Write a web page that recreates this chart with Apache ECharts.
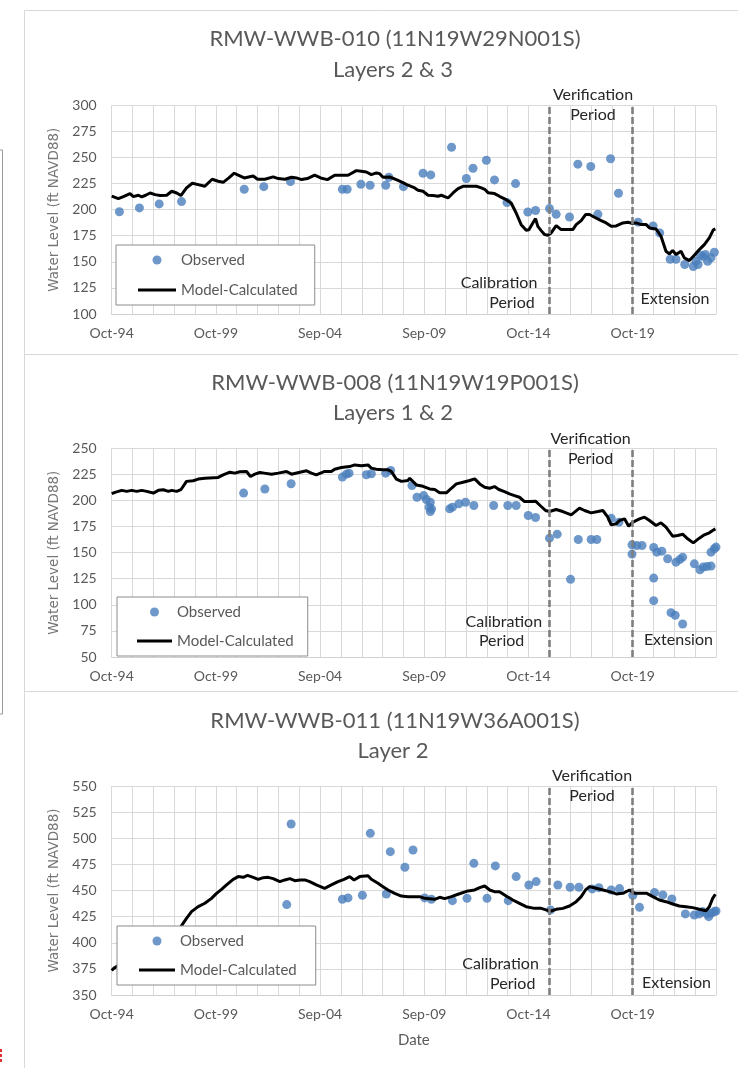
<!DOCTYPE html>
<html><head><meta charset="utf-8">
<script src="https://cdn.jsdelivr.net/npm/echarts@6/dist/echarts.min.js"></script>
<style>html,body{margin:0;padding:0;background:#fff;}#c{width:738px;height:1068px;}</style>
</head><body><div id="c"></div>
<script>
// x values are years after Oct-1994
const xTickLabels = ['Oct-94','Oct-99','Sep-04','Sep-09','Oct-14','Oct-19'];
const xRange = [0, 29];
const periodBounds = [21, 25]; // Oct-15 (end of calibration), Oct-19 (end of verification)

const wellTitles = ['RMW-WWB-010 (11N19W29N001S)', 'RMW-WWB-008 (11N19W19P001S)', 'RMW-WWB-011 (11N19W36A001S)'];
const layerTitles = ['Layers 2 & 3', 'Layers 1 & 2', 'Layer 2'];
const yRanges = [[100, 300], [50, 250], [350, 550]];

const observed010 = [[0.37,198],[1.33,201.7],[2.28,205.5],[3.35,207.7],[6.36,219.5],[7.3,222],[8.58,227],[11.07,219.5],[11.3,219.5],[11.96,224.3],[12.4,223.4],[13.15,223.4],[13.3,231],[14.0,222],[14.94,234.9],[15.31,233.3],[16.31,259.8],[17.02,229.8],[17.34,239.7],[17.98,247.3],[18.37,228.5],[18.97,206.8],[19.38,225],[19.97,197.8],[20.34,199.2],[21.01,201],[21.33,195.6],[21.97,193],[22.37,243.6],[22.99,241.3],[23.33,195.6],[23.94,248.8],[24.32,215.7],[25.26,188],[25.98,184.4],[26.3,177.7],[26.8,152.5],[27.08,152.5],[27.5,147.4],[27.91,145.5],[28.04,150.6],[28.14,147.4],[28.25,156.3],[28.39,155],[28.49,157],[28.6,150.6],[28.76,153.8],[28.92,159.2]];
const model010 = [[0,213],[0.32,210.6],[0.56,212.5],[0.88,215.4],[1.04,212.5],[1.28,213.8],[1.44,212.2],[1.63,213.8],[1.84,216],[2.08,214.4],[2.32,213.5],[2.64,213.8],[2.88,217.6],[3.12,216],[3.32,213.5],[3.59,220.8],[3.87,225.3],[4.15,224],[4.47,222.4],[4.82,229.1],[5.11,227.2],[5.35,226.2],[5.62,230.4],[5.88,234.9],[6.07,233],[6.36,230.4],[6.79,232.3],[7.0,229.1],[7.35,229.1],[7.75,231.4],[7.99,229.8],[8.31,229.1],[8.63,231],[8.87,230.4],[9.11,228.8],[9.39,229.8],[9.74,233],[10.03,230.4],[10.35,228.8],[10.7,233],[11.34,233],[11.74,237.4],[11.98,236.8],[12.22,236.1],[12.46,233.6],[12.7,235.2],[12.86,234.5],[13.02,231],[13.34,231.3],[13.66,228.8],[13.95,226.2],[14.22,223.4],[14.54,220.8],[14.7,218.6],[14.94,217.6],[15.18,213.8],[15.42,213.5],[15.66,212.8],[15.82,213.8],[15.98,212.5],[16.14,211.2],[16.38,216],[16.62,220.2],[16.86,222.4],[17.5,222.4],[17.74,220.8],[17.9,219.5],[18.06,216.3],[18.37,215.4],[18.61,212.8],[18.93,209.6],[19.17,206.4],[19.41,196.8],[19.65,185.6],[19.89,180.2],[20.02,180.8],[20.21,187.2],[20.34,191.4],[20.45,184],[20.61,179.9],[20.77,176.1],[20.93,175.5],[21.09,177.7],[21.33,184.7],[21.57,180.9],[21.89,180.9],[22.13,180.9],[22.29,185.7],[22.53,189.5],[22.74,195.3],[22.93,195.3],[23.17,192.7],[23.49,189.5],[23.73,187.3],[23.97,184.1],[24.21,184.4],[24.53,187.3],[24.77,187.9],[24.97,187],[25.17,187.3],[25.41,185.7],[25.65,185.7],[25.81,182.5],[26.12,181.5],[26.36,174.5],[26.6,160.1],[26.76,157.6],[26.92,160.8],[27.08,157],[27.32,160.1],[27.48,153.8],[27.72,151.2],[27.96,156.3],[28.2,161.7],[28.44,166.5],[28.68,172.9],[28.87,180.6],[28.97,181.5]];

const observed008 = [[6.33,207.1],[7.35,211],[8.61,216],[11.07,222.4],[11.26,225.2],[11.39,226.2],[12.22,224.6],[12.46,225.6],[13.15,226.2],[13.39,228.7],[14.41,214.4],[14.65,203.1],[14.97,204.7],[15.1,200.9],[15.29,198.3],[15.23,193.6],[15.29,189.4],[15.35,192],[16.22,192],[16.35,193.6],[16.66,196.8],[16.98,198.3],[17.38,195.2],[18.33,195.2],[19.01,195.2],[19.41,195.2],[19.99,185.6],[20.34,183.7],[21.01,163.9],[21.38,167.7],[22.02,124.4],[22.39,162.6],[23.01,162.6],[23.28,162.6],[23.97,183],[24.34,179.2],[24.97,157.5],[24.97,148.6],[25.2,156.9],[25.45,156.9],[26.01,155],[26.16,150.5],[26.4,151.4],[26.01,125.6],[26.01,104],[26.68,144.1],[26.84,92.5],[27.04,90],[27.08,140.9],[27.27,143.5],[27.4,145.7],[27.4,81.6],[27.96,139.3],[28.23,133.6],[28.39,136.2],[28.57,136.8],[28.76,137.1],[28.76,150.5],[28.92,153.7],[29.0,155.3]];
const model008 = [[0,206.5],[0.16,207.8],[0.48,209.7],[0.72,208.7],[0.96,209.7],[1.2,208.7],[1.44,209.7],[1.68,208.7],[2.0,207.1],[2.24,209.7],[2.48,210.3],[2.72,208.7],[2.88,209.7],[3.12,208.7],[3.32,210.3],[3.59,218.3],[3.91,218.9],[4.15,220.5],[4.47,221.4],[5.11,222.1],[5.35,224.6],[5.67,227.1],[5.91,226.2],[6.15,227.5],[6.47,227.8],[6.66,223],[6.87,225.2],[7.11,226.8],[7.32,226.2],[7.67,225.2],[7.99,226.2],[8.39,227.8],[8.63,225.2],[9.03,227.1],[9.35,228.4],[9.58,226.2],[9.82,224.6],[10.22,227.8],[10.54,227.8],[10.7,230],[11.02,231.6],[11.42,232.5],[11.66,234.1],[11.98,233.2],[12.3,234.1],[12.46,231],[12.7,230],[13.02,229.4],[13.26,229.4],[13.42,227.8],[13.66,220.5],[13.9,218.3],[14.22,219.2],[14.3,221.3],[14.62,214.9],[14.94,213.6],[15.26,211.1],[15.5,210.5],[15.74,207.3],[16.06,207.3],[16.3,211.7],[16.54,215.9],[16.86,217.5],[17.18,219.1],[17.42,220.7],[17.66,215.9],[17.9,212.7],[18.14,211.7],[18.37,213.3],[18.58,210.5],[18.85,208.5],[19.09,206.3],[19.33,204.7],[19.57,203.1],[19.81,199],[20.05,199],[20.34,199.3],[20.56,195.2],[20.82,190.4],[21.01,189.4],[21.33,191.3],[21.65,189.4],[22.05,186.2],[22.45,192.6],[22.69,190.4],[23.01,188.1],[23.33,189.4],[23.57,190.4],[23.81,184],[23.97,176.7],[24.21,177.6],[24.37,180.8],[24.61,182.4],[24.81,175.4],[25.01,179.2],[25.33,182.4],[25.57,184],[25.81,180.8],[26.12,176],[26.36,178.6],[26.6,174.4],[26.92,165.8],[27.16,166.5],[27.4,167.7],[27.64,163.3],[27.91,159.4],[28.2,163.9],[28.44,167.1],[28.68,169],[28.84,171.2],[28.97,172.8]];

const observed011 = [[8.4,436.5],[8.61,513.6],[11.07,441.6],[11.34,442.9],[12.03,445.4],[12.41,504.7],[13.18,446.7],[13.37,487.2],[14.07,472.2],[14.46,488.8],[15.02,442.9],[15.34,441.6],[16.35,440.3],[17.05,442.5],[17.38,476],[18.01,442.5],[18.41,473.5],[19.03,440.3],[19.41,463.3],[20.02,455.3],[20.37,458.5],[21.06,431.4],[21.41,455.3],[22.0,453.1],[22.42,453.1],[23.06,451.5],[23.38,452.7],[23.97,450.5],[24.37,451.8],[25.01,445.4],[25.33,433.9],[26.05,448],[26.45,445.8],[26.88,441.9],[27.53,427.6],[27.96,426.6],[28.2,427.6],[28.36,429.8],[28.57,427.6],[28.65,425],[28.76,428.2],[28.92,429.8],[29.0,430.4]];
const model011 = [[0,373.5],[0.1,375.5],[3.32,415.4],[3.59,423.4],[3.83,429.8],[4.15,434.6],[4.47,437.8],[4.79,442.5],[5.03,447.3],[5.27,451.1],[5.51,455.3],[5.83,460.7],[6.07,463.3],[6.31,462.6],[6.52,464.5],[6.79,462.6],[7.03,460.7],[7.27,462.3],[7.51,462.6],[7.75,461.4],[8.07,458.5],[8.31,460.1],[8.55,461.4],[8.79,459.4],[9.03,460.1],[9.27,460.1],[9.5,458.5],[9.82,455.3],[10.22,452.1],[10.54,455.3],[10.86,458.5],[11.15,460.7],[11.42,463.3],[11.63,460.1],[11.9,463.3],[12.3,464.2],[12.46,460.7],[12.78,456.9],[13.02,453.7],[13.26,450.5],[13.58,447.3],[13.9,444.7],[14.22,444.1],[14.78,444.1],[15.02,442.5],[15.5,441.6],[15.74,443.5],[15.98,442.2],[16.3,444.1],[16.62,446.4],[17.1,449.6],[17.42,450.5],[17.66,452.7],[17.9,454.3],[18.14,450.5],[18.37,448.9],[18.61,448.9],[18.93,444.7],[19.25,440.9],[19.57,437.7],[19.89,434.5],[20.29,432.9],[20.61,432.9],[20.85,431.4],[21.09,430.4],[21.33,432],[21.65,432.9],[21.97,435.2],[22.29,439.3],[22.53,444.1],[22.74,450.5],[22.93,453.7],[23.25,452.1],[23.57,450.5],[23.89,448.9],[24.21,446.7],[24.53,447.3],[24.85,450.5],[25.09,447.3],[25.33,447.3],[25.68,447.3],[25.97,444.1],[26.28,440.9],[26.6,439.3],[26.92,437.1],[27.24,435.2],[27.56,434.5],[27.88,433.6],[28.2,432],[28.52,430.7],[28.68,434.5],[28.84,442.5],[28.97,446.4]];

const observedSets = [observed010, observed008, observed011];
const modelSets = [model010, model008, model011];

// ---- layout ----
const GRID_LEFT = 111.7, GRID_W = 604.3;
const gridTops = [105.3, 448.3, 786], gridH = [208.7, 208.7, 209];
const panelTops = [10.5, 354.5, 691.5], panelBottoms = [354.5, 691.5, 1090];
const titleY = [[39.3, 70], [383.3, 412.7], [720.7, 751]];
const legendCfg = [
  {left:116, top:245, padding:[6,17,6,22], itemWidth:38, itemGap:12},
  {left:117, top:597, padding:[6,14,6,20], itemWidth:35, itemGap:11},
  {left:117, top:926, padding:[6,19,6,22], itemWidth:36, itemGap:11}
];
const annot = [
  {ver:[593,95,115], cal:[[499,283],[512,303]], ext:[675,299]},
  {ver:[590.6,439.3,459.3], cal:[[503.8,621.7],[501.6,641]], ext:[678.4,640.3]},
  {ver:[592,776,796], cal:[[500.5,964.3],[512.7,984]], ext:[676.5,983.3]}
];

const FONT = 'Lato';
const grids = [], xAxes = [], yAxes = [], series = [], legends = [], graphics = [];

function txt(x, y, text, size, color, family) {
  return {type:'text', x:x, y:y, z:10, silent:true,
    style:{text:text, font: size + 'px "' + (family||FONT) + '"', fill:color,
      align:'center', verticalAlign:'middle', textAlign:'center', textVerticalAlign:'middle'}};
}

for (let i = 0; i < 3; i++) {
  grids.push({left: GRID_LEFT, top: gridTops[i], width: GRID_W, height: gridH[i], containLabel:false});
  xAxes.push({
    type:'value', gridIndex:i, min:xRange[0], max:xRange[1], interval:1,
    axisLine:{show:true, lineStyle:{color:'#d0d0d0', width:1}},
    axisTick:{show:false},
    splitLine:{show:true, lineStyle:{color:'#d9d9d9', width:1}},
    axisLabel:{interval:0, margin:12, color:'#595959', fontFamily:FONT, fontSize:14,
      formatter: v => (Math.abs(v % 5) < 1e-6 && v/5 < xTickLabels.length) ? xTickLabels[Math.round(v/5)] : ''},
    name: i === 2 ? 'Date' : '', nameLocation:'middle', nameGap:38,
    nameTextStyle:{color:'#595959', fontFamily:FONT, fontSize:15}
  });
  yAxes.push({
    type:'value', gridIndex:i, min:yRanges[i][0], max:yRanges[i][1], interval:25,
    axisLine:{show:false}, axisTick:{show:false},
    splitLine:{show:true, lineStyle:{color:'#d9d9d9', width:1}},
    axisLabel:{margin:15, color:'#595959', fontFamily:FONT, fontSize:14},
    name:'Water Level (ft NAVD88)', nameLocation:'middle', nameGap:46, nameRotate:90,
    nameTextStyle:{color:'#767676', fontFamily:'DejaVu Sans', fontSize:13.5}
  });
  series.push({
    name:'Observed', type:'scatter', xAxisIndex:i, yAxisIndex:i, data:observedSets[i],
    symbol:'circle', symbolSize:9, clip:false, itemStyle:{color:'#4A7EBB'}, z:3,
    markLine:{silent:true, symbol:'none', label:{show:false}, animation:false,
      lineStyle:{color:'#7f7f7f', width:2.6, type:[7,3]},
      data: periodBounds.map(b => ({xAxis:b}))}
  });
  series.push({
    name:'Model-Calculated', type:'line', xAxisIndex:i, yAxisIndex:i, data:modelSets[i],
    showSymbol:false, symbol:'none', smooth:false, z:4,
    lineStyle:{color:'#000', width:3}, itemStyle:{color:'#000'}
  });
  const L = legendCfg[i];
  legends.push({
    orient:'vertical', left:L.left, top:L.top, padding:L.padding, itemWidth:L.itemWidth, itemHeight:9,
    itemGap:L.itemGap, itemTextGap:3, borderColor:'#8c8c8c', borderWidth:1, backgroundColor:'#fff',
    selectedMode:false, z:6,
    textStyle:{fontFamily:FONT, fontSize:15, color:'#595959', lineHeight:18},
    data:[{name:'Observed', icon:'circle'},
          {name:'Model-Calculated', icon:'path://M0,0L38,0L38,3.2L0,3.2Z', itemStyle:{color:'#000'}}]
  });
  // panel border
  graphics.push({type:'rect', silent:true, z:-1,
    shape:{x:24.5, y:panelTops[i], width:760, height:panelBottoms[i]-panelTops[i]},
    style:{fill:'none', stroke:'#d9d9d9', lineWidth:1}});
  graphics.push(txt(395, titleY[i][0], wellTitles[i], 22, '#595959'));
  graphics.push(txt(393, titleY[i][1], layerTitles[i], 22, '#595959'));
  const A = annot[i];
  graphics.push(txt(A.ver[0], A.ver[1], 'Verification', 16, '#262626'));
  graphics.push(txt(A.ver[0], A.ver[2], 'Period', 16, '#262626'));
  graphics.push(txt(A.cal[0][0], A.cal[0][1], 'Calibration', 16, '#262626'));
  graphics.push(txt(A.cal[1][0], A.cal[1][1], 'Period', 16, '#262626'));
  graphics.push(txt(A.ext[0], A.ext[1], 'Extension', 16, '#262626'));
}
// stray page decorations at far left
graphics.push({type:'rect', silent:true, shape:{x:-20, y:150, width:22.5, height:564}, style:{fill:'none', stroke:'#9a9a9a', lineWidth:1}});
graphics.push({type:'rect', silent:true, shape:{x:0, y:1049, width:2, height:3}, style:{fill:'#e03030'}});
graphics.push({type:'rect', silent:true, shape:{x:0, y:1054, width:2, height:3}, style:{fill:'#e03030'}});
graphics.push({type:'rect', silent:true, shape:{x:0, y:1059, width:2, height:3}, style:{fill:'#e03030'}});

const chart = echarts.init(document.getElementById('c'), null, {renderer:'canvas'});
chart.setOption({
  backgroundColor:'#fff', animation:false,
  grid:grids, xAxis:xAxes, yAxis:yAxes, series:series, legend:legends, graphic:graphics
});
</script>
</body></html>
